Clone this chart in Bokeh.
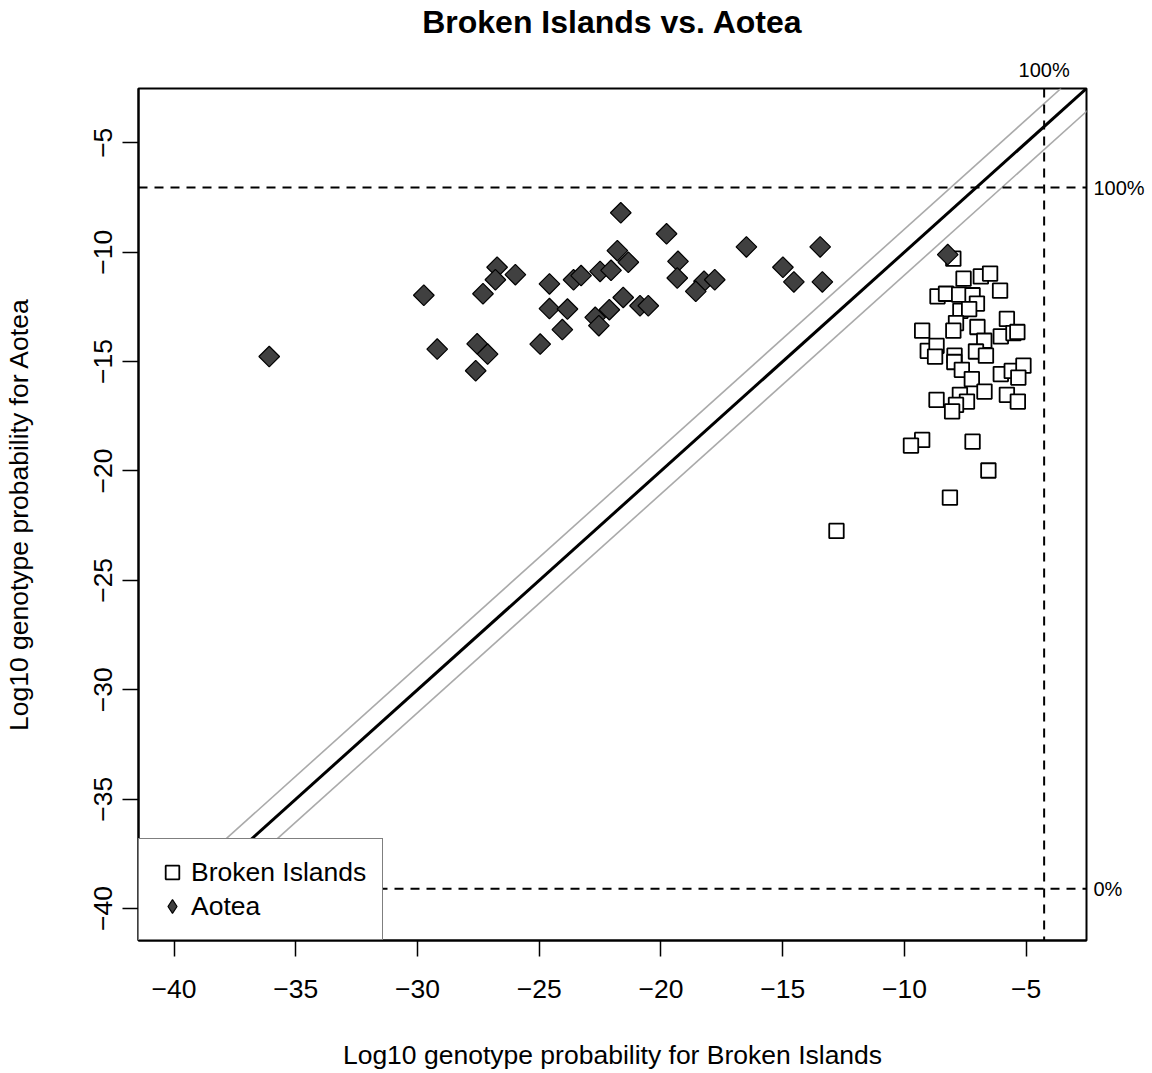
import math
from bokeh.plotting import figure
from bokeh.models import Range1d, FixedTicker, Slope, Span, Legend, LegendItem, LinearAxis
from bokeh.embed import file_html
from bokeh.resources import INLINE

# ---------------- data ----------------
broken_x = [-7.99, -7.57, -6.86, -6.48, -6.07, -8.64, -8.29, -7.75, -7.20, -7.02,
            -7.70, -7.34, -5.79, -9.27, -7.88, -7.99, -7.00, -6.72, -6.04, -5.52,
            -5.36, -9.04, -8.68, -8.74, -7.94, -7.95, -7.06, -6.65, -7.64, -7.23,
            -6.04, -5.59, -5.11, -5.32, -6.71, -5.79, -5.34, -8.68, -7.72, -7.43,
            -7.88, -8.04, -9.27, -9.73, -7.20, -6.55, -8.13, -12.79]
broken_y = [-10.30, -11.21, -11.11, -10.98, -11.76, -12.02, -11.90, -11.94, -11.97, -12.35,
            -12.68, -12.60, -13.05, -13.59, -13.24, -13.59, -13.42, -14.05, -13.85, -13.70,
            -13.65, -14.51, -14.28, -14.77, -14.73, -15.02, -14.54, -14.73, -15.38, -15.80,
            -15.57, -15.43, -15.19, -15.73, -16.37, -16.52, -16.83, -16.75, -16.52, -16.83,
            -16.98, -17.28, -18.58, -18.84, -18.66, -19.98, -21.22, -22.74]

aotea_x = [-21.65, -19.77, -16.49, -13.46, -26.73, -21.79, -21.34, -19.30, -25.98, -26.80,
           -14.99, -14.54, -13.37, -24.58, -23.59, -23.28, -22.50, -22.05, -19.33, -18.23,
           -17.79, -18.57, -29.74, -27.31, -24.58, -23.84, -21.55, -22.12, -20.86, -20.52,
           -22.70, -22.55, -24.05, -24.96, -29.19, -27.55, -27.12, -27.61, -36.09, -8.22]
aotea_y = [-8.20, -9.16, -9.76, -9.76, -10.69, -9.93, -10.46, -10.42, -11.03, -11.26,
           -10.69, -11.36, -11.36, -11.45, -11.26, -11.07, -10.88, -10.83, -11.18, -11.33,
           -11.26, -11.79, -11.97, -11.90, -12.58, -12.60, -12.07, -12.63, -12.45, -12.45,
           -12.98, -13.36, -13.54, -14.20, -14.43, -14.19, -14.66, -15.42, -14.77, -10.11]

ticks = [-40, -35, -30, -25, -20, -15, -10, -5]
tick_labels = {t: "\u2212" + str(abs(t)) for t in ticks}

axis_lim = (-41.46, -2.52)
x_threshold = -4.26      # 100% line for Broken Islands
y_upper = -7.05          # 100% line for Aotea
y_lower = -39.1          # 0% line for Aotea
band = 1.05              # offset of grey lines around the 1:1 line

FONT = "Liberation Sans"

# ---------------- figure ----------------
p = figure(width=1152, height=1073,
           x_range=Range1d(*axis_lim), y_range=Range1d(*axis_lim),
           output_backend="svg", toolbar_location=None,
           min_border_left=138, min_border_right=66,
           min_border_top=88, min_border_bottom=133,
           title="Broken Islands vs. Aotea")

p.title.align = "center"
p.title.text_font = FONT
p.title.text_font_size = "32px"
p.title.text_font_style = "bold"
p.title.text_color = "black"
p.title.standoff = 2

p.xgrid.visible = False
p.ygrid.visible = False
p.outline_line_color = "black"
p.outline_line_width = 2
p.background_fill_color = "white"
p.border_fill_color = "white"

for ax in (p.xaxis[0], p.yaxis[0]):
    ax.ticker = FixedTicker(ticks=ticks)
    ax.major_label_overrides = tick_labels
    ax.minor_tick_line_color = None
    ax.major_tick_out = 16
    ax.major_tick_in = 0
    ax.major_tick_line_width = 1.5
    ax.major_tick_line_color = "black"
    ax.axis_line_width = 2
    ax.axis_line_color = "black"
    ax.major_label_text_font = FONT
    ax.major_label_text_font_size = "26.5px"
    ax.major_label_text_color = "black"
    ax.axis_label_text_font = FONT
    ax.axis_label_text_font_size = "26.5px"
    ax.axis_label_text_font_style = "normal"
    ax.axis_label_text_color = "black"

p.xaxis.axis_label = "Log10 genotype probability for Broken Islands"
p.yaxis.axis_label = "Log10 genotype probability for Aotea"
p.xaxis.major_label_standoff = 23
p.xaxis.axis_label_standoff = 39
p.yaxis.major_label_orientation = "vertical"
p.yaxis.major_label_standoff = 10
p.yaxis.axis_label_standoff = 58

# percentage marks as extra axes (outside the frame)
top_axis = LinearAxis(ticker=FixedTicker(ticks=[x_threshold]),
                      major_label_overrides={x_threshold: "100%"},
                      axis_line_color=None, major_tick_line_color=None,
                      minor_tick_line_color=None, major_tick_out=0, major_tick_in=0,
                      major_label_standoff=8, major_label_text_font=FONT,
                      major_label_text_font_size="20px", major_label_text_color="black",
                      axis_label=" ", axis_label_text_font_size="1px",
                      axis_label_standoff=11)
p.add_layout(top_axis, "above")
right_axis = LinearAxis(ticker=FixedTicker(ticks=[y_upper, y_lower]),
                        major_label_overrides={y_upper: "100%", y_lower: "0%"},
                        axis_line_color=None, major_tick_line_color=None,
                        minor_tick_line_color=None, major_tick_out=0, major_tick_in=0,
                        major_label_standoff=7, major_label_orientation="horizontal",
                        major_label_text_font=FONT,
                        major_label_text_font_size="20px", major_label_text_color="black")
p.add_layout(right_axis, "right")

# reference lines
p.add_layout(Slope(gradient=1, y_intercept=band, line_color="#aaaaaa", line_width=1.6, level="underlay"))
p.add_layout(Slope(gradient=1, y_intercept=-band, line_color="#aaaaaa", line_width=1.6, level="underlay"))
p.add_layout(Slope(gradient=1, y_intercept=0, line_color="black", line_width=3, level="underlay"))
p.add_layout(Span(location=x_threshold, dimension="height", line_color="black",
                  line_width=2, line_dash="9 7", level="underlay"))
p.add_layout(Span(location=y_upper, dimension="width", line_color="black",
                  line_width=2, line_dash="9 7", level="underlay"))
p.add_layout(Span(location=y_lower, dimension="width", line_color="black",
                  line_width=2, line_dash="9 7", level="underlay"))

# points
r_b = p.scatter(broken_x, broken_y, marker="square", size=14.5,
                fill_color="white", line_color="black", line_width=1.8)
# diamond glyph used for the legend entry; it lies fully under the rotated squares
r_a_leg = p.scatter(aotea_x, aotea_y, marker="diamond", size=14,
                    fill_color="#404040", line_color="black", line_width=1.2)
r_a = p.scatter(aotea_x, aotea_y, marker="square", angle=math.pi / 4, size=14.6,
                fill_color="#404040", line_color="black", line_width=1.2)

legend = Legend(items=[LegendItem(label="Broken Islands", renderers=[r_b]),
                       LegendItem(label="Aotea", renderers=[r_a_leg])],
                location="bottom_left", margin=0, padding=16, spacing=0,
                glyph_width=34, glyph_height=34, label_height=34, label_standoff=2,
                label_text_font=FONT, label_text_font_size="26.5px",
                label_text_color="black",
                border_line_color="black", border_line_width=1.5,
                background_fill_color="white", background_fill_alpha=1.0)
p.add_layout(legend)

open("out.html", "w").write(file_html(p, INLINE))
